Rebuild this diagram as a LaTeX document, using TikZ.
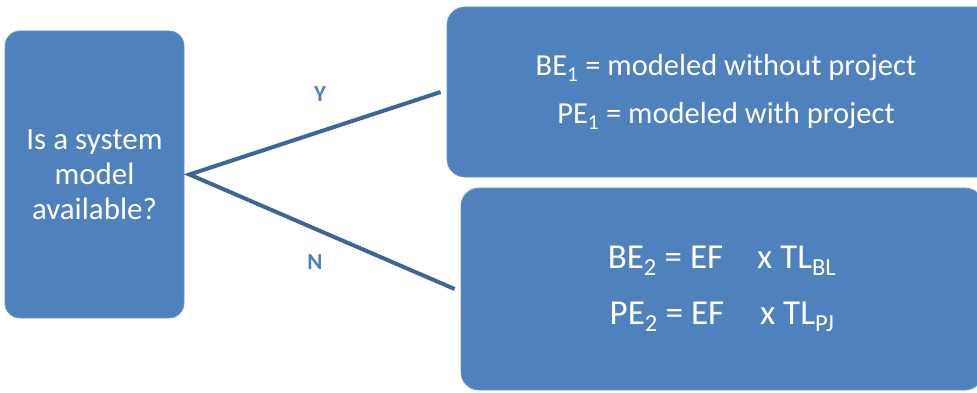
\documentclass[tikz,border=0pt]{standalone}
\usepackage{fontspec}
\setmainfont{Carlito}
\definecolor{boxblue}{HTML}{4F81BD}
\definecolor{boxedge}{HTML}{6C95C8}
\definecolor{linkblue}{HTML}{3D6697}
\definecolor{labelblue}{HTML}{4F81BD}
\tikzset{
  panel/.style={fill=boxblue, draw=boxedge, line width=0.8pt, text=white,
                align=center, inner sep=0pt},
  link/.style={draw=linkblue, line width=4pt, line join=miter},
  branch/.style={text=labelblue, font=\fontsize{23}{27}\selectfont\bfseries}
}
\begin{document}
\begin{tikzpicture}[x=1pt,y=1pt]
  \useasboundingbox (0,0) rectangle (977,392);
  \clip (0,0) rectangle (977,392);

  % decision box
  \node[panel, rounded corners=15pt, minimum width=179pt, minimum height=287pt,
        font=\fontsize{31}{35}\selectfont] (ask) at (94.5,217.5)
        {Is a system\\model\\available?};

  % outcome boxes (run past the right edge)
  \node[panel, rounded corners=18pt, minimum width=558pt, minimum height=170pt,
        font=\fontsize{30.5}{48}\selectfont] (yes) at (726,300)
        {BE\textsubscript{1} = modeled without project\\
         PE\textsubscript{1} = modeled with project};
  \node[panel, rounded corners=18pt, minimum width=522pt, minimum height=202pt,
        font=\fontsize{35}{56}\selectfont] (no) at (722,103)
        {BE\textsubscript{2} = EF\hspace{34pt}x TL\textsubscript{BL}\\
         PE\textsubscript{2} = EF\hspace{36pt}x TL\textsubscript{PJ}};

  % branches
  \draw[link] ([xshift=-6pt]yes.west) -- ([xshift=5pt]ask.east) -- ([xshift=-6pt]no.west);
  \node[branch] (ylabel) at (320,297.5) {Y};
  \node[branch] (nlabel) at (315,130) {N};
\end{tikzpicture}
\end{document}
